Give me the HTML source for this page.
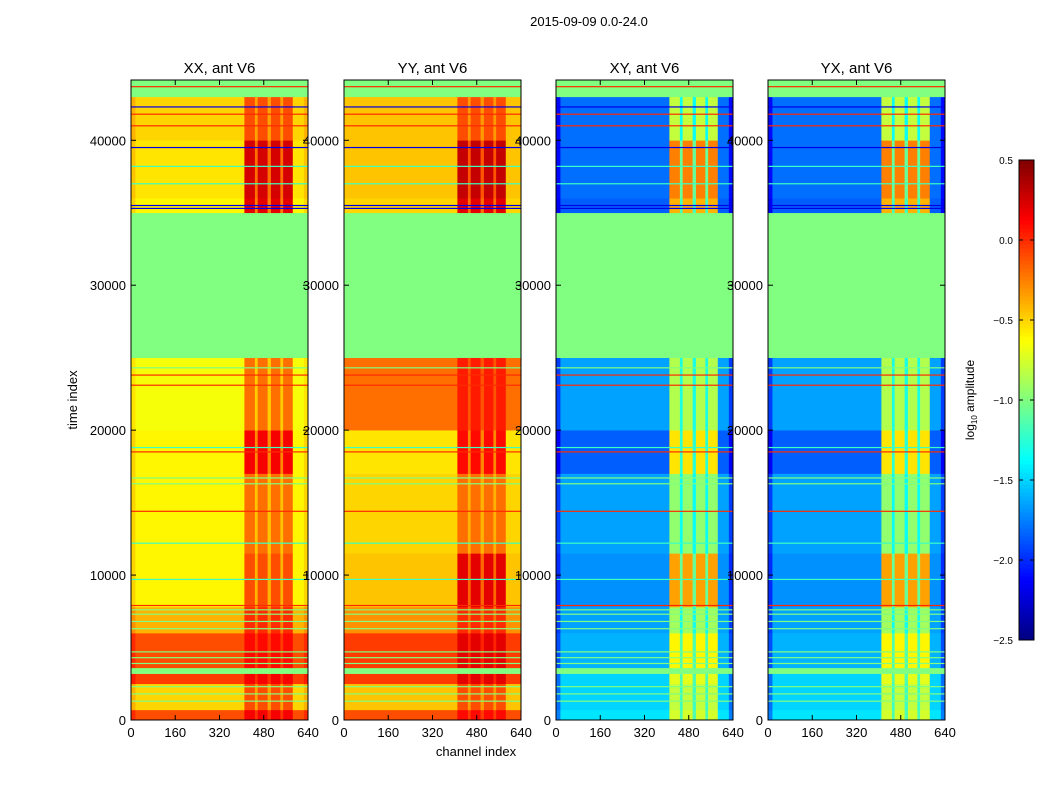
<!DOCTYPE html>
<html><head><meta charset="utf-8">
<style>
body{margin:0;background:#fff;}
svg text{font-family:"Liberation Sans",sans-serif;fill:#000;}
</style></head>
<body>
<svg id="fig" width="1050" height="800" viewBox="0 0 1050 800" xmlns="http://www.w3.org/2000/svg">
<rect width="1050" height="800" fill="#fff"/>
<text x="589" y="26" font-size="13" text-anchor="middle">2015-09-09 0.0-24.0</text>
<text x="0" y="0" font-size="13" text-anchor="middle" transform="translate(77,400) rotate(-90)">time index</text>
<text x="476" y="756" font-size="13" text-anchor="middle">channel index</text>
<g id="panels"></g>
<g id="cbar"></g>
</svg>
<script>
// ---- data ----
const panelTitles = ["XX, ant V6","YY, ant V6","XY, ant V6","YX, ant V6"];
const xTicks = [0,160,320,480,640];
const yTicks = [0,10000,20000,30000,40000];
const cbarTicks = [0.5,0.0,-0.5,-1.0,-1.5,-2.0,-2.5];
const colEdges = [0,16,410,448,458,494,506,540,550,585,625,640];
const colKinds = ["edge","body","rfi","gap","rfi","gap","rfi","gap","rfi","body","edge"];
// time segments: [start, end]
const segStarts = [0,700,2500,3200,3600,6000,7800,11500,17000,20000,25000,35000,36000,40000,43000];
const segEnds   = [700,2500,3200,3600,6000,7800,11500,17000,20000,25000,35000,36000,40000,43000,44160];
// body value / rfi value per segment per panel
const xxBody = [-0.1,-0.5,-0.05,-1.0,-0.1,-0.4,-0.6,-0.6,-0.6,-0.65,-1.0,-0.6,-0.55,-0.5,-1.0];
const xxRfi  = [0.15,-0.1,0.15,-1.0,0.1,0.0,-0.1,-0.2,0.15,-0.2,-1.0,0.2,0.25,-0.1,-1.0];
const yyBody = [-0.1,-0.45,-0.05,-1.0,-0.05,-0.3,-0.45,-0.5,-0.55,-0.2,-1.0,-0.5,-0.45,-0.45,-1.0];
const yyRfi  = [0.1,-0.1,0.2,-1.0,0.2,0.0,0.2,-0.2,0.1,0.05,-1.0,0.2,0.3,-0.1,-1.0];
const xyBody = [-1.45,-1.5,-1.5,-1.0,-1.6,-1.65,-1.7,-1.65,-1.85,-1.65,-1.0,-1.85,-1.8,-1.8,-1.0];
const xyRfi  = [-0.75,-0.8,-0.7,-1.0,-0.6,-0.9,-0.35,-0.95,-0.55,-0.85,-1.0,-0.4,-0.25,-0.8,-1.0];
const yxBody = [-1.45,-1.5,-1.5,-1.0,-1.6,-1.65,-1.7,-1.65,-1.85,-1.65,-1.0,-1.85,-1.8,-1.8,-1.0];
const yxRfi  = [-0.75,-0.8,-0.7,-1.0,-0.6,-0.9,-0.35,-0.95,-0.55,-0.85,-1.0,-0.4,-0.25,-0.8,-1.0];
const edgeOffset = [0.1,0.0,-0.3,-0.3];
// flagged horizontal lines: time and value
const lineTimes = [1300,1800,2300,3900,4300,4700,6300,6800,7300,7600,7900,9700,12200,14400,16300,16700,18500,18800,23100,23800,24300,35300,35500,37000,38200,39500,41000,41800,42300,43700];
const lineVals  = [-1.0,-1.0,-1.0,-1.0,-1.0,-1.0,-1.0,-1.0,-1.0,-1.0,0.0,-1.2,-1.2,0.0,-1.0,-1.0,0.0,-1.2,0.0,0.0,-1.0,-2.2,-2.2,-1.2,-1.2,-2.2,0.0,0.0,-2.2,0.0];
const panelBody = [xxBody,yyBody,xyBody,yxBody];
const panelRfi = [xxRfi,yyRfi,xyRfi,yxRfi];
const cbMin=-2.5, cbMax=0.5;

// ---- layout ----
const panelX=[131,344,556,768], pW=177, pTop=80, pBot=720, tMax=44160;
const NS="http://www.w3.org/2000/svg";
function jet(v){let x=(v-cbMin)/(cbMax-cbMin);x=Math.max(0,Math.min(1,x));
 const c=t=>Math.round(255*Math.max(0,Math.min(1,1.5-Math.abs(t))));
 return `rgb(${c(4*x-3)},${c(4*x-2)},${c(4*x-1)})`;}
function el(tag,attrs,parent){const e=document.createElementNS(NS,tag);for(const k in attrs)e.setAttribute(k,attrs[k]);parent.appendChild(e);return e;}
const ys=t=>pBot-(t/tMax)*(pBot-pTop);
const panels=document.getElementById('panels');
panelTitles.forEach((title,p)=>{
 const x0=panelX[p]; const xs=c=>x0+c/640*pW;
 const g=el('g',{},panels);
 
 
 const body=panelBody[p], rfi=panelRfi[p];
 segStarts.forEach((s,i)=>{
  const e=segEnds[i], flagged=(body[i]===-1.0&&rfi[i]===-1.0);
  for(let k=0;k<colKinds.length;k++){
   let v;const kind=colKinds[k];
   if(flagged) v=-1.0;
   else if(kind==='rfi') v=rfi[i];
   else if(kind==='gap') v=(rfi[i]+body[i])/2-0.05;
   else if(kind==='edge') v=body[i]+edgeOffset[p];
   else v=body[i];
   const r=el('rect',{x:xs(colEdges[k]),y:ys(e),width:xs(colEdges[k+1])-xs(colEdges[k])+0.3,height:ys(s)-ys(e)+0.3,fill:jet(v)},g);
   
   
  }
 });
 lineTimes.forEach((t,i)=>{
  const r=el('rect',{x:x0,y:ys(t)-0.6,width:pW,height:1.2,fill:jet(lineVals[i])},g);
  
  
 });
 el('rect',{x:x0,y:pTop,width:pW,height:pBot-pTop,fill:'none',stroke:'#000','stroke-width':1},g);
 const tt=el('text',{x:x0+pW/2,y:73,'font-size':15,'text-anchor':'middle'},g);tt.textContent=title;
 
 
 xTicks.forEach(c=>{
  const x=xs(c);
  el('line',{x1:x,x2:x,y1:pBot,y2:pBot-5,stroke:'#000'},g);
  el('line',{x1:x,x2:x,y1:pTop,y2:pTop+5,stroke:'#000'},g);
  const t=el('text',{x:x,y:737,'font-size':13,'text-anchor':'middle'},g);t.textContent=c;
  
  
 });
 yTicks.forEach(v=>{
  const y=ys(v);
  el('line',{x1:x0,x2:x0+5,y1:y,y2:y,stroke:'#000'},g);
  el('line',{x1:x0+pW,x2:x0+pW-5,y1:y,y2:y,stroke:'#000'},g);
  const t=el('text',{x:x0-5,y:y+5,'font-size':13,'text-anchor':'end'},g);t.textContent=v;
  
  
 });
});
// colorbar
const cb=document.getElementById('cbar');


const cx=1019,cw=15,cTop=160,cBot=640,N=120;
for(let i=0;i<N;i++){const v=cbMin+(i+0.5)/N*(cbMax-cbMin);const h=(cBot-cTop)/N;
 el('rect',{x:cx,y:cBot-(i+1)*h,width:cw,height:h+0.5,fill:jet(v)},cb);}
el('rect',{x:cx,y:cTop,width:cw,height:cBot-cTop,fill:'none',stroke:'#000'},cb);
cbarTicks.forEach(v=>{const y=cBot-(v-cbMin)/(cbMax-cbMin)*(cBot-cTop);
 el('line',{x1:cx,x2:cx+4,y1:y,y2:y,stroke:'#000'},cb);
 el('line',{x1:cx+cw,x2:cx+cw-4,y1:y,y2:y,stroke:'#000'},cb);
 const t=el('text',{x:1013,y:y+4,'font-size':10,'text-anchor':'end'},cb);t.textContent=v.toFixed(1).replace('-','\u2212');
 
 
});
const lab=el('text',{'font-size':12,'text-anchor':'middle',transform:'translate(974,400) rotate(-90)'},cb);


lab.innerHTML='log<tspan font-size="8" dy="3">10</tspan><tspan dy="-3"> amplitude</tspan>';
</script>
</body></html>
